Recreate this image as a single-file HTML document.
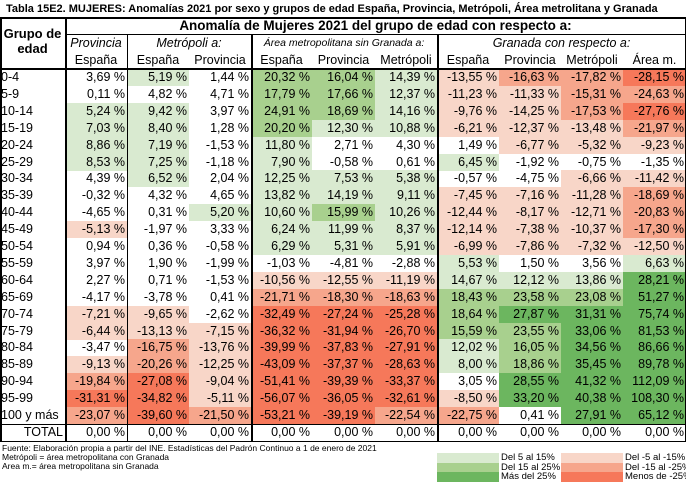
<!DOCTYPE html>
<html><head><meta charset="utf-8">
<style>
body{margin:0;width:686px;height:488px;background:#fff;font-family:"Liberation Sans",sans-serif;color:#000;overflow:hidden;position:relative}
.a{position:absolute;box-sizing:border-box;white-space:nowrap}
.c{font-size:12.5px;text-align:right;padding-right:2px;line-height:17px;height:17px}
.h{font-size:12.5px;text-align:center}
.l{position:absolute;background:#000}
.ft{font-size:8.5px;position:absolute;left:2px;line-height:9px;white-space:nowrap}
.lg{font-size:9.5px;position:absolute;line-height:9.5px;white-space:nowrap}
</style></head><body>
<div class="a" style="left:6px;top:3px;font-size:11px;font-weight:bold">Tabla 15E2. MUJERES: Anomalías 2021 por sexo y grupos de edad España, Provincia, Metrópoli, Área metrolitana y Granada</div>
<div class="a h" style="left:0;top:26px;width:65px;font-weight:bold;font-size:13px;line-height:15px">Grupo de<br>edad</div>
<div class="a h" style="left:65px;top:18px;width:621px;font-weight:bold;font-size:13.5px;line-height:16px">Anomalía de Mujeres 2021 del grupo de edad con respecto a:</div>
<div class="a h" style="left:65px;top:35px;width:62px;font-style:italic;line-height:17px">Provincia</div>
<div class="a h" style="left:127px;top:35px;width:124px;font-style:italic;line-height:17px">Metrópoli a:</div>
<div class="a h" style="left:251px;top:35px;width:186px;font-style:italic;font-size:10.5px;line-height:17px">Área metropolitana sin Granada a:</div>
<div class="a h" style="left:437px;top:35px;width:249px;font-style:italic;line-height:17px">Granada con respecto a:</div>
<div id="root"></div>
<div class="ft" style="top:444px">Fuente: Elaboración propia a partir del INE. Estadísticas del Padrón Continuo a 1 de enero de 2021</div>
<div class="ft" style="top:453px">Metrópoli = área metropolitana con Granada</div>
<div class="ft" style="top:462px">Area m.= área metropolitana sin Granada</div>
<div id="legend"></div>
<script>
var rowLabels=["0-4","5-9","10-14","15-19","20-24","25-29","30-34","35-39","40-44","45-49","50-54","55-59","60-64","65-69","70-74","75-79","80-84","85-89","90-94","95-99","100 y más"];
var colHeads=["España","España","Provincia","España","Provincia","Metrópoli","España","Provincia","Metrópoli","Área m."];
var provEsp=[3.69,0.11,5.24,7.03,8.86,8.53,4.39,-0.32,-4.65,-5.13,0.94,3.97,2.27,-4.17,-7.21,-6.44,-3.47,-9.13,-19.84,-31.31,-23.07];
var metEsp=[5.19,4.82,9.42,8.40,7.19,7.25,6.52,4.32,0.31,-1.97,0.36,1.90,0.71,-3.78,-9.65,-13.13,-16.75,-20.26,-27.08,-34.82,-39.60];
var metProv=[1.44,4.71,3.97,1.28,-1.53,-1.18,2.04,4.65,5.20,3.33,-0.58,-1.99,-1.53,0.41,-2.62,-7.15,-13.76,-12.25,-9.04,-5.11,-21.50];
var areaEsp=[20.32,17.79,24.91,20.20,11.80,7.90,12.25,13.82,10.60,6.24,6.29,-1.03,-10.56,-21.71,-32.49,-36.32,-39.99,-43.09,-51.41,-56.07,-53.21];
var areaProv=[16.04,17.66,18.69,12.30,2.71,-0.58,7.53,14.19,15.99,11.99,5.31,-4.81,-12.55,-18.30,-27.24,-31.94,-37.83,-37.37,-39.39,-36.05,-39.19];
var areaMet=[14.39,12.37,14.16,10.88,4.30,0.61,5.38,9.11,10.26,8.37,5.91,-2.88,-11.19,-18.63,-25.28,-26.70,-27.91,-28.63,-33.37,-32.61,-22.54];
var grEsp=[-13.55,-11.23,-9.76,-6.21,1.49,6.45,-0.57,-7.45,-12.44,-12.14,-6.99,5.53,14.67,18.43,18.64,15.59,12.02,8.00,3.05,-8.50,-22.75];
var grProv=[-16.63,-11.33,-14.25,-12.37,-6.77,-1.92,-4.75,-7.16,-8.17,-7.38,-7.86,1.50,12.12,23.58,27.87,23.55,16.05,18.86,28.55,33.20,0.41];
var grMet=[-17.82,-15.31,-17.53,-13.48,-5.32,-0.75,-6.66,-11.28,-12.71,-10.37,-7.32,3.56,13.86,23.08,31.31,33.06,34.56,35.45,41.32,40.38,27.91];
var grArea=[-28.15,-24.63,-27.76,-21.97,-9.23,-1.35,-11.42,-18.69,-20.83,-17.30,-12.50,6.63,28.21,51.27,75.74,81.53,86.66,89.78,112.09,108.30,65.12];
var series=[provEsp,metEsp,metProv,areaEsp,areaProv,areaMet,grEsp,grProv,grMet,grArea];
var colX=[65,127,189,251,312,375,437,499,561,623,686];
var top0=69,rowH=16.9;
function colour(v){
 if(v>25)return"#6cb65f"; if(v>=15)return"#a8d08e"; if(v>=5)return"#d9ead0";
 if(v<-25)return"#f6785a"; if(v<=-15)return"#f6a68c"; if(v<=-5)return"#f8d6c8"; return"transparent";}
function fmt(v){return v.toFixed(2).replace(".",",")+" %";}
var root=document.getElementById("root");
function rowY(i){return top0+i*rowH;}
for(var j=0;j<colHeads.length;j++){
 var d=document.createElement("div");
 d.className="a h";
 
 
 d.style.left=colX[j]+"px";d.style.top="52px";d.style.width=(colX[j+1]-colX[j])+"px";d.style.lineHeight="17px";
 d.textContent=colHeads[j];root.appendChild(d);}
for(var i=0;i<rowLabels.length;i++){
 var lb=document.createElement("div");
 lb.className="a c";
 
 
 lb.style.left="1px";lb.style.top=rowY(i)+"px";lb.style.textAlign="left";
 lb.textContent=rowLabels[i];root.appendChild(lb);
 for(var j=0;j<series.length;j++){
  var v=series[j][i];
  var c=document.createElement("div");
  c.className="a c";
  
  
  c.style.left=colX[j]+"px";c.style.top=rowY(i)+"px";c.style.width=(colX[j+1]-colX[j])+"px";
  c.style.background=colour(v);c.textContent=fmt(v);root.appendChild(c);}}
var ty=rowY(rowLabels.length);
var tl=document.createElement("div");
tl.className="a c";


tl.style.left="0";tl.style.width="65px";tl.style.top=ty+"px";tl.textContent="TOTAL";root.appendChild(tl);
for(var j=0;j<series.length;j++){
 var c=document.createElement("div");
 c.className="a c";
 
 
 c.style.left=colX[j]+"px";c.style.top=ty+"px";c.style.width=(colX[j+1]-colX[j])+"px";
 c.textContent=fmt(0);root.appendChild(c);}
function line(x,y,w,h){var l=document.createElement("div");l.className="l";
 
 
 l.style.left=x+"px";l.style.top=y+"px";l.style.width=w+"px";l.style.height=h+"px";root.appendChild(l);}
var bot=ty+rowH;
line(0,17,686,1.5);line(0,bot,686,1.5);line(0,17,1.5,bot-17);line(684.5,17,1.5,bot-17);
line(65,34,621,1);line(0,68,686,1.5);line(0,ty,686,1.5);
line(65,17,1.5,bot-17);line(127,34,1,bot-34);line(251,34,1.5,bot-34);line(437,34,1.5,bot-34);
var legG=["Del 5 al 15%","Del 15 al 25%","Más del 25%"],legR=["Del -5 al -15%","Del -15 al -25%","Menos de -25%"];
var legGC=[10,20,30],legRC=[-10,-20,-30];
var lgd=document.getElementById("legend");
for(var k=0;k<3;k++){
 var y=453+k*9.5;
 [[437,legGC[k],legG[k],501],[561,legRC[k],legR[k],625]].forEach(function(p){
  var b=document.createElement("div");b.className="a";
  
  
  b.style.left=p[0]+"px";b.style.top=y+"px";b.style.width="62px";b.style.height="9.5px";b.style.background=colour(p[1]);lgd.appendChild(b);
  var t=document.createElement("div");t.className="lg";
  
  
  t.style.left=p[3]+"px";t.style.top=y+"px";t.textContent=p[2];lgd.appendChild(t);});}
</script>
</body></html>
